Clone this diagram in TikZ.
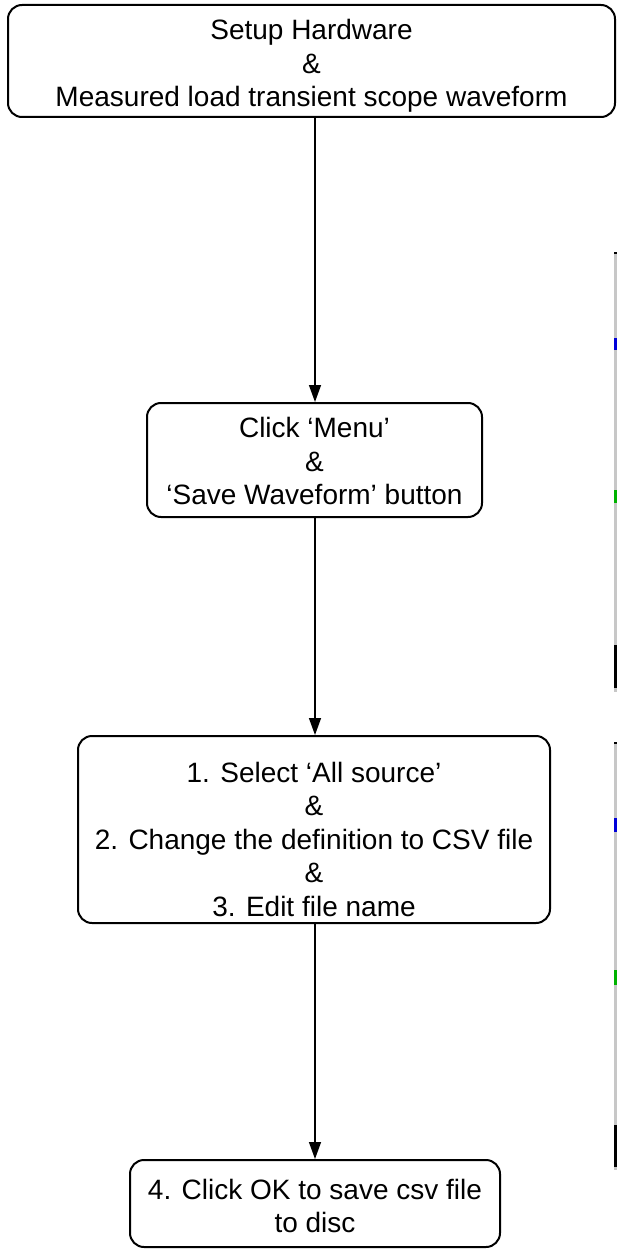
\documentclass[tikz,border=0pt]{standalone}
\usepackage{fontspec}
\setmainfont{Liberation Sans}
\usetikzlibrary{arrows.meta}
\begin{document}
\begin{tikzpicture}[x=1pt,y=-1pt,
  box/.style={draw=black, line width=2pt, rounded corners=14pt, inner sep=0pt},
  txt/.style={align=center, inner sep=0pt, font=\fontsize{28}{33.5}\selectfont},
  flow/.style={draw=black, line width=1.4pt, -{Triangle[length=17pt,width=12pt]}}]
\useasboundingbox (0,0) rectangle (617,1249);
% screenshot slivers on the right edge
\fill[black!22] (614.2,253) rectangle (617,692);
\fill[black!22] (614.2,743) rectangle (617,1170);
\fill[black] (613.5,252) rectangle (617,254);
\fill[black] (613.5,742) rectangle (617,744);
\fill[blue!85!black] (614,338) rectangle (616.5,350);
\fill[blue!85!black] (614,818) rectangle (616.5,832);
\fill[green!70!black] (614,490) rectangle (616.5,503);
\fill[green!70!black] (614,970) rectangle (616.5,985);
\fill[black] (614,645) rectangle (616.5,688);
\fill[black] (614,1125) rectangle (616.5,1167);
% boxes
\node[box, minimum width=607pt, minimum height=112pt] (b1) at (311.5,61) {};
\node[box, minimum width=335pt, minimum height=114pt] (b2) at (314.5,460) {};
\node[box, minimum width=472pt, minimum height=187pt] (b3) at (314,829.5) {};
\node[box, minimum width=370pt, minimum height=87pt] (b4) at (315,1203.5) {};
% texts
\node[txt] (t1) at (311.5,66) {Setup Hardware\\\&\\Measured load transient scope waveform};
\node[txt] (t2) at (314.5,461) {Click ‘Menu’\\\&\\‘Save Waveform’ button};
\node[txt] (t3) at (314,839) {1. Select ‘All source’\\\&\\2. Change the definition to CSV file\\\&\\3. Edit file name};
\node[txt] (t4) at (315,1206) {4. Click OK to save csv file\\to disc};
% connectors
\draw[flow] (b1.south -| 315,0) -- (b2.north -| 315,0);
\draw[flow] (b2.south -| 315,0) -- (b3.north -| 315,0);
\draw[flow] (b3.south -| 315,0) -- (b4.north -| 315,0);
\end{tikzpicture}
\end{document}
